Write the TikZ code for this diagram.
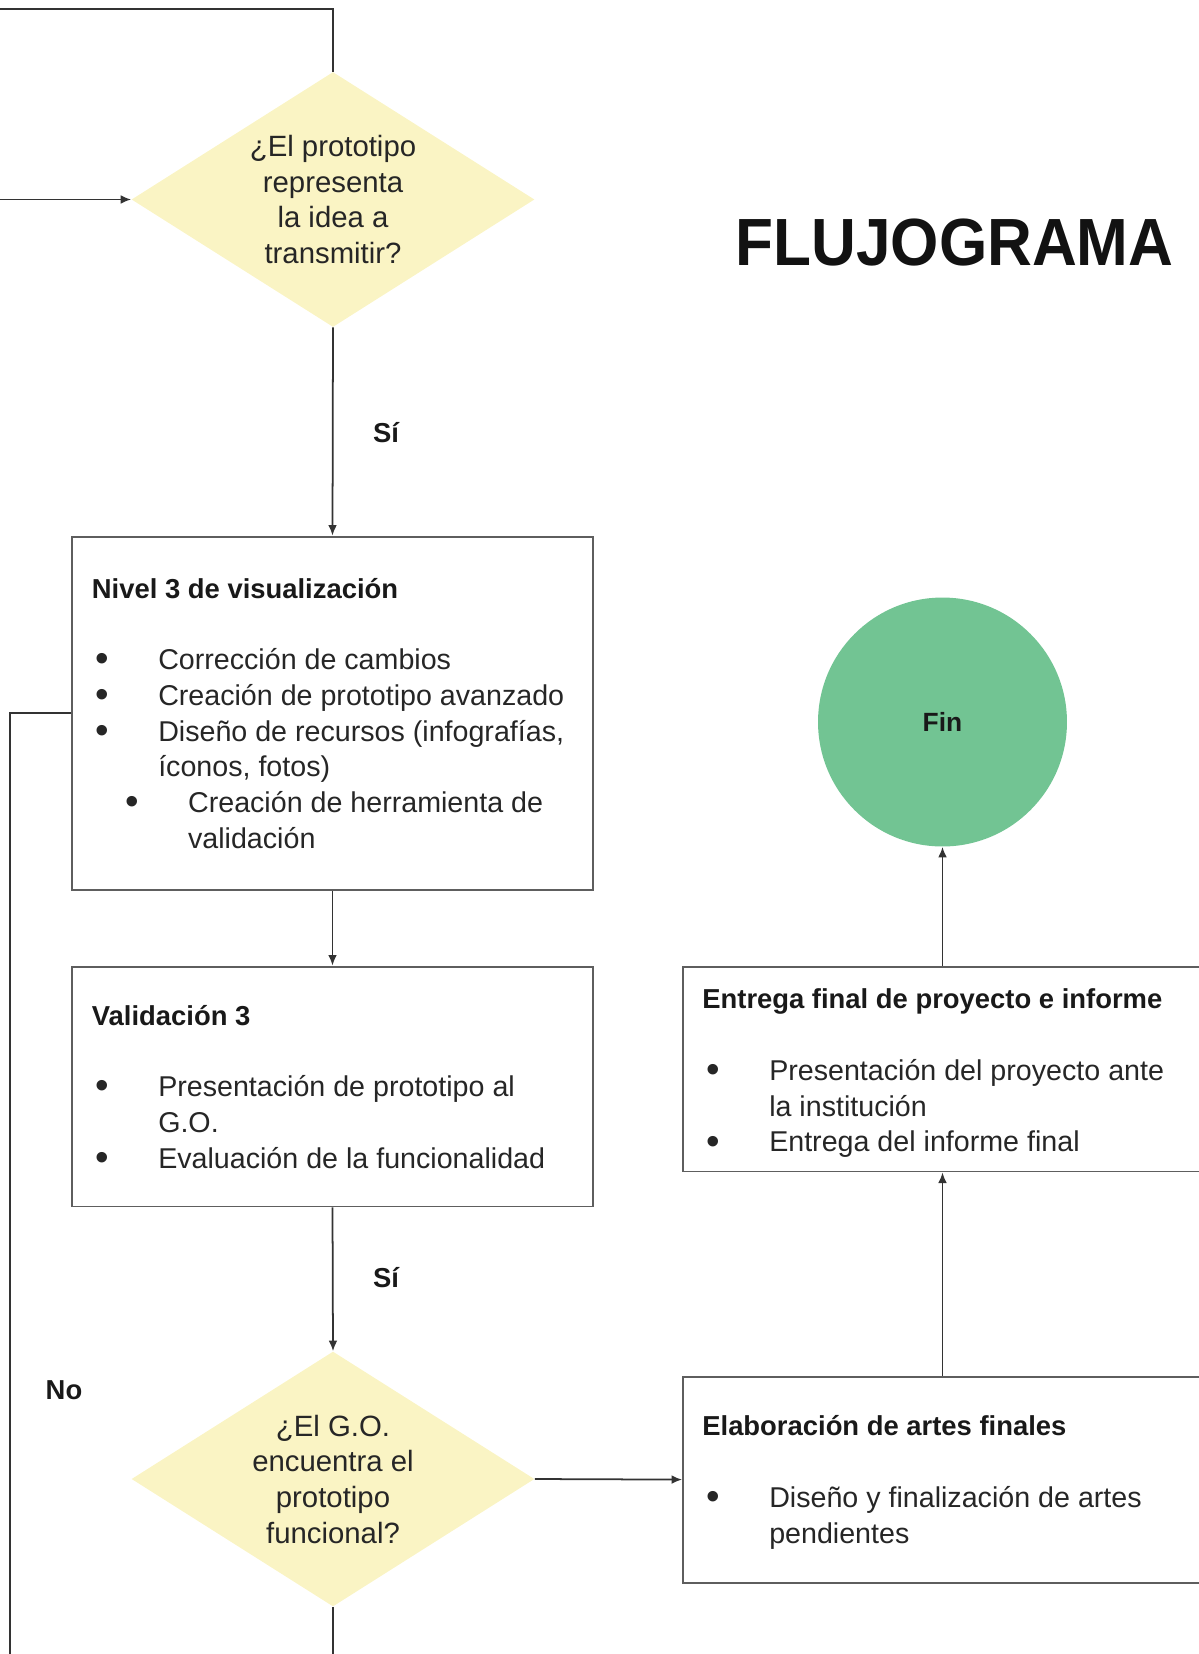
\documentclass[tikz,border=0pt]{standalone}
\usepackage{fontspec}
\setmainfont{Liberation Sans}
\usetikzlibrary{shapes.geometric, arrows.meta, positioning}

\definecolor{amarillo}{HTML}{FAF4C4}
\definecolor{verdefin}{HTML}{72C493}
\definecolor{trazo}{HTML}{333333}
\definecolor{borde}{HTML}{5E5E5E}

\newcommand{\bul}{\makebox[35.8pt][l]{\raisebox{-0.08em}{\scalebox{1.35}{\textbullet}}}}
\newcommand{\nob}{\hspace*{35.8pt}}
\newcommand{\subbul}{\hspace*{17pt}\bul}
\newcommand{\subnob}{\hspace*{52.8pt}}

\tikzset{
  decision/.style={diamond, fill=amarillo, aspect=1.58, inner sep=0pt,
    minimum width=8.06cm, minimum height=5.1cm, align=center,
    font=\fontsize{16.7}{20.3}\selectfont, text=black!85},
  caja/.style={rectangle, draw=borde, line width=1.1pt, inner sep=0pt},
  titulo/.style={anchor=base west, inner sep=0pt,
    font=\fontsize{15.6}{19}\selectfont\bfseries, text=black!90},
  % base of a list = baseline of its last line
  lista/.style={anchor=base west, inner sep=0pt, align=left,
    font=\fontsize{16.3}{20.3}\selectfont, text=black!85},
  etiqueta/.style={anchor=base, inner sep=0pt,
    font=\fontsize{15.6}{19}\selectfont\bfseries, text=black!90},
  flecha/.style={draw=trazo, line width=1pt, -{Latex[length=6pt,width=5pt]}},
  linea/.style={draw=trazo, line width=1pt},
}

\begin{document}
\begin{tikzpicture}[x=0.02cm, y=-0.02cm]

    \useasboundingbox (0,0) rectangle (1199,1654);
    \clip (0,0) rectangle (1199,1654);

    % Title
    \node[anchor=base, inner sep=0pt, text=black!93,
      font=\fontsize{38}{40}\selectfont\bfseries] (titulo) at (954.5,265.5)
      {\scalebox{0.93}[1]{FLUJOGRAMA}};

    % Decisions
    \node[decision] (idea) at (333,199.5)
      {¿El prototipo\\representa\\la idea a\\transmitir?};
    \node[decision] (funcional) at (333,1479)
      {¿El G.O.\\encuentra el\\prototipo\\funcional?};

    % Boxes of the left column
    \node[caja, minimum width=10.42cm, minimum height=7.07cm] (nivel) at (332.5,713.25) {};
    \node[titulo] (nivelt) at (91.6,598) {Nivel 3 de visualización};
    \node[lista] (nivell) at (95,848)
      {\bul Corrección de cambios\\
       \bul Creación de prototipo avanzado\\
       \bul Diseño de recursos (infografías,\\
       \nob íconos, fotos)\\
       \subbul Creación de herramienta de\\
       \subnob validación};

    \node[caja, minimum width=10.42cm, minimum height=4.8cm] (valida) at (332.5,1086.5) {};
    \node[titulo] (validat) at (91.6,1025) {Validación 3};
    \node[lista] (validal) at (95,1168)
      {\bul Presentación de prototipo al\\
       \nob G.O.\\
       \bul Evaluación de la funcionalidad};

    % Boxes of the right column
    \node[caja, minimum width=11.34cm, minimum height=4.1cm] (entrega) at (966.5,1069) {};
    \node[titulo] (entregat) at (702,1008) {Entrega final de proyecto e informe};
    \node[lista] (entregal) at (706,1151.7)
      {\bul Presentación del proyecto ante\\
       \nob la institución\\
       \bul Entrega del informe final};

    \node[caja, minimum width=11.34cm, minimum height=4.12cm] (artes) at (966.5,1479.6) {};
    \node[titulo] (artest) at (702,1435) {Elaboración de artes finales};
    \node[lista] (artesl) at (706,1543)
      {\bul Diseño y finalización de artes\\
       \nob pendientes};

    % End
    \node[circle, fill=verdefin, minimum size=4.98cm, inner sep=0pt,
      font=\fontsize{15}{18}\selectfont\bfseries, text=black!90] (fin) at (942.5,722) {Fin};

    % Labels
    \node[etiqueta] (si1) at (386,442) {Sí};
    \node[etiqueta] (si2) at (386,1287.6) {Sí};
    \node[etiqueta] (no) at (64,1399) {No};

    % Free ends at the border
    \coordinate (arriba) at (-5,9);
    \coordinate (entrada) at (-5,199.5);
    \coordinate (retorno) at (10.3,1665);
    \coordinate (abajo) at (333,1665);

    % Connectors
    \draw[linea] (arriba) -| (idea.north);
    \draw[flecha] (entrada) -- (idea.west);
    \draw[flecha] (idea.south) -- (nivel.north);
    \draw[flecha] (nivel.south) -- (valida.north);
    \draw[flecha] (valida.south) -- (funcional.north);
    \draw[linea] (funcional.south) -- (abajo);
    \draw[linea] (nivel.west) -| (retorno);
    \draw[flecha] (funcional.east) -- (artes.west);
    \draw[flecha] (fin.south |- artes.north) -- (fin.south |- entrega.south);
    \draw[flecha] (fin.south |- entrega.north) -- (fin.south);

\end{tikzpicture}
\end{document}
